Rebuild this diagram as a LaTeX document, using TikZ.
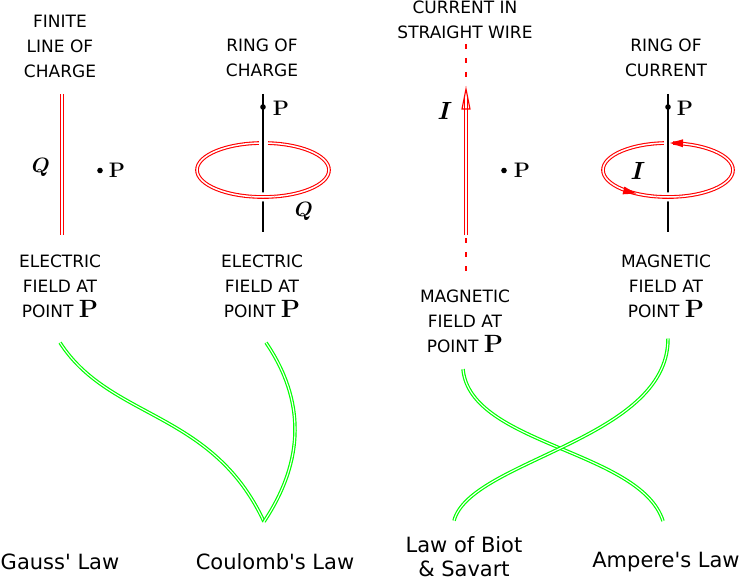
\documentclass[tikz,border=0pt]{standalone}
\usepackage{amsmath}
\usepackage{fontspec}
\setsansfont{DejaVu Sans}[Ligatures=TeXOff]
\usetikzlibrary{decorations.markings,calc}
\definecolor{cRed}{HTML}{FF0000}
\definecolor{cGreen}{HTML}{00FF00}
\newcommand{\ptP}{{\fontsize{25}{25}\selectfont\rmfamily\bfseries P}}

\begin{document}
\begin{tikzpicture}[x=1pt,y=-1pt,
  lbl/.style={font={\fontsize{17}{25}\selectfont\sffamily},align=center,inner sep=0pt},
  law/.style={font={\fontsize{21}{24}\selectfont\sffamily},align=center,inner sep=0pt},
  plbl/.style={font={\fontsize{21}{21}\selectfont\bfseries},inner sep=0pt},
  sym/.style={font={\fontsize{24}{24}\selectfont},inner sep=0pt},
  wire/.style={draw=cRed,double=white,line width=1.1pt,double distance=2.2pt},
  ring/.style={draw=cRed,double=white,line width=1.1pt,double distance=1.5pt},
  rodline/.style={line width=1.4pt},
  dashw/.style={cRed,line width=1.4pt,dash pattern=on 5pt off 9pt},
  gap/.style={white,line width=9pt},
  link/.style={draw=cGreen,double=white,line width=1.2pt,double distance=1.1pt},
  tipmark/.style={decorate,decoration={markings,
    mark=at position 0.24 with {\fill[cRed] (1,0) -- (-12,4) -- (-12,-4) -- cycle;},
    mark=at position 0.64 with {\fill[cRed] (1,0) -- (-12,4) -- (-12,-4) -- cycle;}}}]
\useasboundingbox (0,0) rectangle (742,583);

% titles
\node[lbl] (t1) at (60,46) {FINITE\\LINE OF\\CHARGE};
\node[lbl] (t2) at (262,58) {RING OF\\CHARGE};
\node[lbl] (t3) at (465,20) {CURRENT IN\\STRAIGHT WIRE};
\node[lbl] (t4) at (666,58) {RING OF\\CURRENT};

% finite line of charge
\draw[wire] (62,94) -- (62,235);
\node[sym,font={\fontsize{22}{22}\selectfont}] (q1) at (41,167) {$\boldsymbol{Q}$};
\fill (100,170.5) circle (2.8);
\node[plbl] (p1) at (117,170.5) {P};

% ring of charge
\coordinate (c2) at (263,170);
\draw[ring] (c2) ellipse [x radius=66, y radius=27];
\draw[gap] (263,139) -- (263,147);
\draw[rodline] (263,94) -- (263,232);
\draw[ring,preaction={draw=white,line width=9pt}] (c2) ++(80:66 and 27)
  arc[start angle=80,end angle=100,x radius=66,y radius=27];
\fill (263,107) circle (2.8);
\node[plbl] (p2) at (281,108) {P};
\node[sym,font={\fontsize{22}{22}\selectfont}] (q2) at (304,211) {$\boldsymbol{Q}$};

% current in straight wire
\draw[dashw] (466,44) -- (466,86);
\draw[dashw] (466,238) -- (466,274);
\draw[wire] (466,235) -- (466,96);
\draw[cRed,line width=1.1pt] (462,109) -- (466,89) -- (470,109) -- cycle;
\node[sym] (i3) at (445,111) {$\boldsymbol{I}$};
\fill (504,170.5) circle (2.8);
\node[plbl] (p3) at (522,170.5) {P};

% ring of current
\coordinate (c4) at (668,170);
\draw[ring] (c4) ellipse [x radius=65, y radius=27];
\draw[gap] (668,139) -- (668,147);
\draw[rodline] (668,94) -- (668,232);
\draw[ring,preaction={draw=white,line width=9pt}] (c4) ++(80:65 and 27)
  arc[start angle=80,end angle=100,x radius=65,y radius=27];
\path[tipmark] (c4) ++(0:65 and 27) arc[start angle=0,end angle=-360,x radius=65,y radius=27];
\fill (668,107) circle (2.8);
\node[plbl] (p4) at (685,108) {P};
\node[sym] (i4) at (638,171) {$\boldsymbol{I}$};

% fields
\node[lbl] (f1) at (60,286) {ELECTRIC\\FIELD AT\\POINT \ptP};
\node[lbl] (f2) at (262,286) {ELECTRIC\\FIELD AT\\POINT \ptP};
\node[lbl] (f3) at (465,321.5) {MAGNETIC\\FIELD AT\\POINT \ptP};
\node[lbl] (f4) at (666,286) {MAGNETIC\\FIELD AT\\POINT \ptP};

% laws
\node[law] (gauss) at (60,562) {Gauss' Law};
\node[law] (coulomb) at (275,562) {Coulomb's Law};
\node[law] (biot) at (464,557) {Law of Biot\\\& Savart};
\node[law] (ampere) at (666,562) {Ampere's Law};

\draw[link] ([yshift=-25pt]f1.south) .. controls (110,420) and (212,410) .. ([xshift=-11pt,yshift=32pt]coulomb.north);
\draw[link] ([xshift=4pt,yshift=-25pt]f2.south) .. controls (305,400) and (305,460) .. ([xshift=-11pt,yshift=32pt]coulomb.north);
\draw[link] ([xshift=-2pt,yshift=-16pt]f3.south) .. controls (470,445) and (640,450) .. ([xshift=-3pt,yshift=31pt]ampere.north);
\draw[link] ([xshift=2pt,yshift=-21pt]f4.south) .. controls (668,440) and (470,460) .. ([xshift=-10pt,yshift=16pt]biot.north);
\end{tikzpicture}
\end{document}
